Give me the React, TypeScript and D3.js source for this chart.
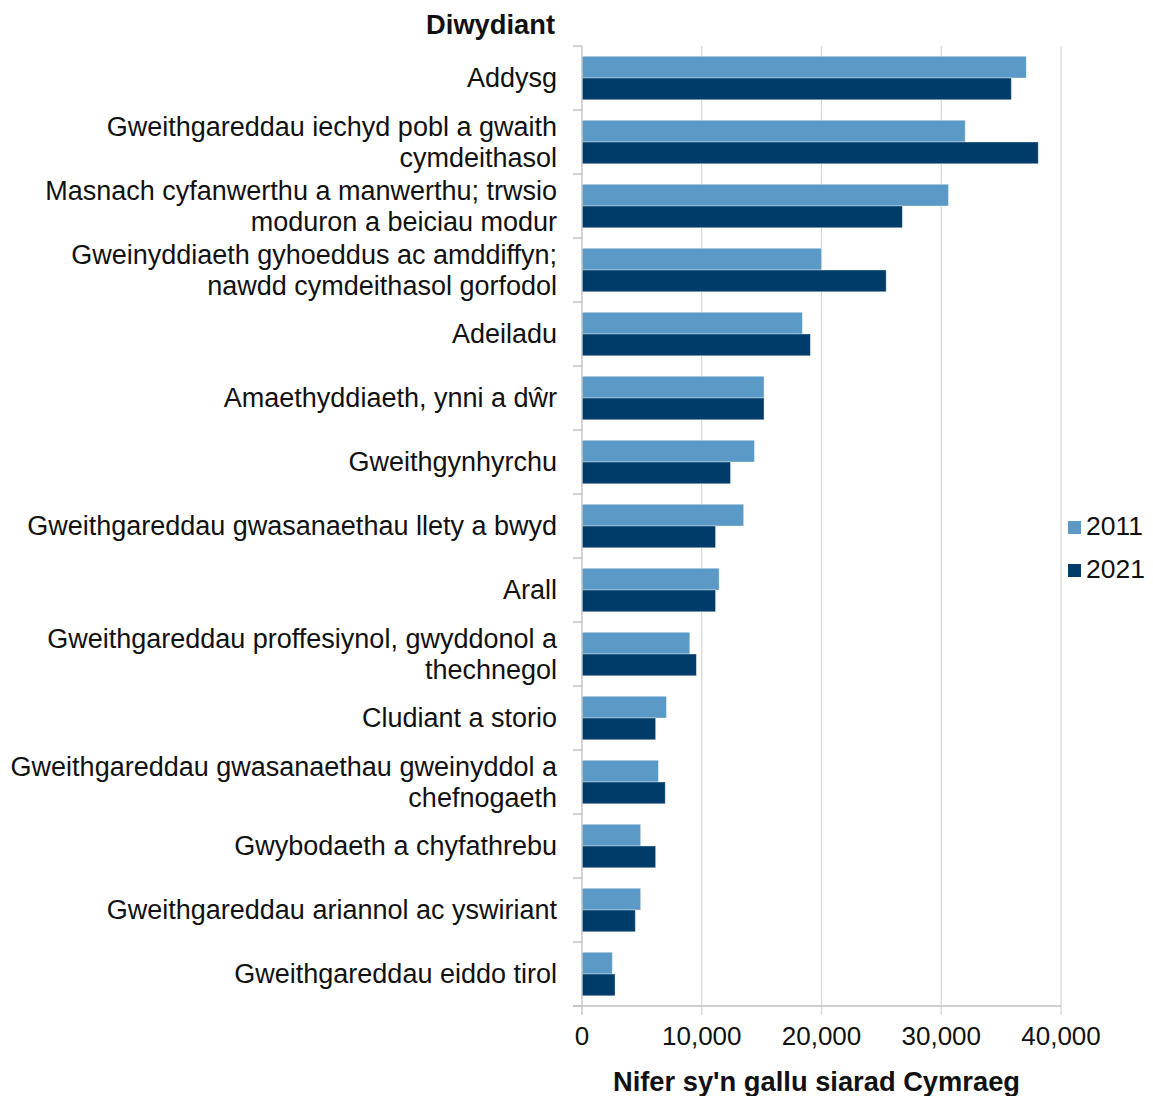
import React from "react";
import * as d3 from "d3";

const categories: string[][] = [
  ["Addysg"],
  ["Gweithgareddau iechyd pobl a gwaith", "cymdeithasol"],
  ["Masnach cyfanwerthu a manwerthu; trwsio", "moduron a beiciau modur"],
  ["Gweinyddiaeth gyhoeddus ac amddiffyn;", "nawdd cymdeithasol gorfodol"],
  ["Adeiladu"],
  ["Amaethyddiaeth, ynni a dŵr"],
  ["Gweithgynhyrchu"],
  ["Gweithgareddau gwasanaethau llety a bwyd"],
  ["Arall"],
  ["Gweithgareddau proffesiynol, gwyddonol a", "thechnegol"],
  ["Cludiant a storio"],
  ["Gweithgareddau gwasanaethau gweinyddol a", "chefnogaeth"],
  ["Gwybodaeth a chyfathrebu"],
  ["Gweithgareddau ariannol ac yswiriant"],
  ["Gweithgareddau eiddo tirol"],
];

const values2011: number[] = [
  37100, 32000, 30600, 20000, 18400, 15200, 14400, 13500, 11450, 9000, 7050,
  6380, 4900, 4900, 2530,
];
const values2021: number[] = [
  35850, 38100, 26750, 25400, 19070, 15200, 12400, 11150, 11150, 9550, 6150,
  6950, 6150, 4450, 2760,
];

const seriesNames = ["2011", "2021"];
const seriesColors = ["#5b9ac7", "#003c69"];
const xTicks = [0, 10000, 20000, 30000, 40000];

const yTitle = "Diwydiant";
const xTitle = "Nifer sy'n gallu siarad Cymraeg";

export default function App() {
  const W = 1153;
  const H = 1096;
  const x0 = 582;
  const x1 = 1061;
  const yTop = 46;
  const yBot = 1006;

  const x = d3.scaleLinear().domain([0, 40000]).range([x0, x1]);
  const keys = categories.map((c) => c.join(" "));
  const y = d3
    .scaleBand<string>()
    .domain(keys)
    .range([yTop, yBot])
    .paddingInner(0.32)
    .paddingOuter(0.16);
  const ySub = d3
    .scaleBand<string>()
    .domain(seriesNames)
    .range([0, y.bandwidth()])
    .padding(0);

  const series = [values2011, values2021];
  const fmt = d3.format(",");
  const step = y.step();
  const font = "Arial, 'Liberation Sans', sans-serif";

  return (
    <svg
      width={W}
      height={H}
      style={{ position: "absolute", left: 0, top: 0, background: "#fff" }}
      fontFamily={font}
    >
      <rect x={0} y={0} width={W} height={H} fill="#fff" />
      {/* gridlines */}
      {xTicks.slice(1).map((t) => (
        <line
          key={"g" + t}
          x1={x(t)}
          x2={x(t)}
          y1={yTop}
          y2={yBot + 9}
          stroke="#d9d9d9"
          strokeWidth={1.3}
        />
      ))}
      {/* bars */}
      {series.map((vals, si) =>
        vals.map((v, i) => (
          <rect
            key={si + "-" + i}
            x={x(0)}
            y={(y(keys[i]) as number) + (ySub(seriesNames[si]) as number)}
            width={x(v) - x(0)}
            height={ySub.bandwidth()}
            fill={seriesColors[si]}
            stroke="rgba(255,255,255,0.45)"
            strokeWidth={0.8}
          />
        ))
      )}
      {/* y axis */}
      <line x1={x0} x2={x0} y1={yTop} y2={yBot} stroke="#bfbfbf" strokeWidth={1.3} />
      {d3.range(categories.length + 1).map((i) => (
        <line
          key={"yt" + i}
          x1={x0 - 9}
          x2={x0}
          y1={yTop + i * step}
          y2={yTop + i * step}
          stroke="#bfbfbf"
          strokeWidth={1.3}
        />
      ))}
      {/* x axis */}
      <line x1={x0 - 9} x2={x1} y1={yBot} y2={yBot} stroke="#bfbfbf" strokeWidth={1.3} />
      <line x1={x0} x2={x0} y1={yBot} y2={yBot + 9} stroke="#bfbfbf" strokeWidth={1.3} />
      {xTicks.map((t) => (
        <text
          key={"xl" + t}
          x={x(t)}
          y={1045}
          textAnchor="middle"
          fontSize={26}
          fill="#111"
        >
          {fmt(t)}
        </text>
      ))}
      {/* category labels */}
      {categories.map((lines, i) => {
        const cy = (y(keys[i]) as number) + y.bandwidth() / 2;
        const n = lines.length;
        return (
          <text key={"c" + i} textAnchor="end" fontSize={27} fill="#111">
            {lines.map((ln, j) => (
              <tspan
                key={j}
                x={557}
                y={cy + (j - (n - 1) / 2) * 31 + 9}
              >
                {ln}
              </tspan>
            ))}
          </text>
        );
      })}
      {/* titles */}
      <text x={555} y={34} textAnchor="end" fontSize={27.3} fontWeight="bold" fill="#111">
        {yTitle}
      </text>
      <text
        x={(x0 + x1) / 2 - 5}
        y={1091}
        textAnchor="middle"
        fontSize={27.3}
        fontWeight="bold"
        fill="#111"
      >
        {xTitle}
      </text>
      {/* legend */}
      {seriesNames.map((s, i) => (
        <g key={"lg" + s} transform={`translate(1068, ${521 + i * 43})`}>
          <rect x={0} y={0} width={13} height={13} fill={seriesColors[i]} />
          <text x={18} y={14} fontSize={26.5} fill="#111">
            {s}
          </text>
        </g>
      ))}
    </svg>
  );
}
